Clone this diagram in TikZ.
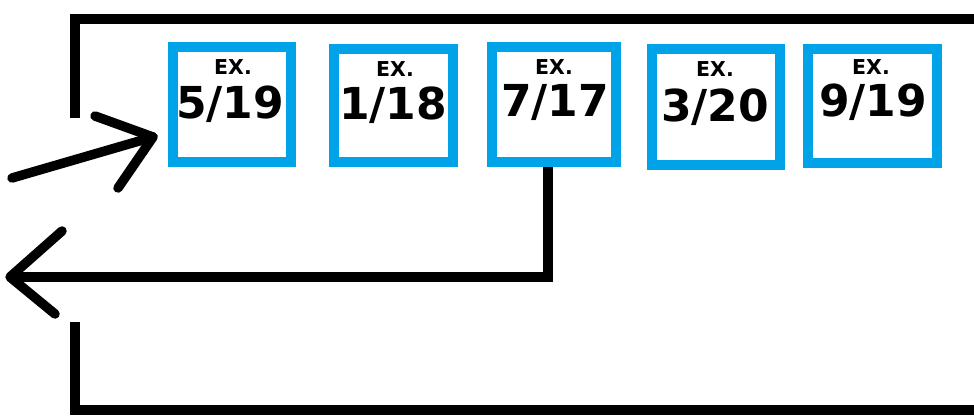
\documentclass[tikz,border=0pt]{standalone}
\usepackage{fontspec}
\setmainfont{DejaVu Sans}
\definecolor{boxblue}{HTML}{00A2E8}
\tikzset{
  exbox/.style={draw=boxblue, line width=10pt, minimum width=118pt, minimum height=115pt, inner sep=0pt},
  exlbl/.style={font=\bfseries\fontsize{20.5}{22}\selectfont, inner sep=0pt},
  numlbl/.style={font=\bfseries\fontsize{44}{46}\selectfont, inner sep=0pt},
  frame/.style={line width=9.5pt, black},
  arr/.style={line width=9.5pt, black, line cap=round, line join=round}
}
\begin{document}
\begin{tikzpicture}[x=1pt,y=-1pt]
\useasboundingbox (0,0) rectangle (974,415);
% boxes (outer extents in px)
\node[exbox, minimum width=118pt, minimum height=115pt] (b1) at (232,104.5) {};
\node[exbox, minimum width=119pt, minimum height=113pt] (b2) at (393.5,105.5) {};
\node[exbox, minimum width=124pt, minimum height=115pt] (b3) at (554,104.5) {};
\node[exbox, minimum width=128pt, minimum height=116pt] (b4) at (716,107) {};
\node[exbox, minimum width=129pt, minimum height=114pt] (b5) at (872.5,106) {};
% labels
\node[exlbl] (e1) at (233,67) {EX.};
\node[exlbl] (e2) at (395,69) {EX.};
\node[exlbl] (e3) at (554,67) {EX.};
\node[exlbl] (e4) at (715,69) {EX.};
\node[exlbl] (e5) at (871,67) {EX.};
\node[numlbl] (n1) at (230,104) {5/19};
\node[numlbl] (n2) at (393,105) {1/18};
\node[numlbl] (n3) at (555,103) {7/17};
\node[numlbl] (n4) at (715,107) {3/20};
\node[numlbl] (n5) at (873,102) {9/19};
% frame
\coordinate (ftl) at (75,19);
\coordinate (ftr) at (980,19);
\coordinate (fa) at (75,118);
\coordinate (fb) at (75,322);
\coordinate (fbl) at (75,410);
\coordinate (fbr) at (980,410);
\draw[frame] (fa) -- (ftl) -- (ftr);
\draw[frame] (fb) -- (fbl) -- (fbr);
% incoming arrow
\coordinate (inS) at (12,178);
\coordinate (inT) at (153,137);
\coordinate (inA) at (95,116);
\coordinate (inB) at (118,188);
\draw[arr] (inS) -- (inT);
\draw[arr] (inA) -- (inT) -- (inB);
% outgoing arrow from 7/17
\coordinate (oc) at (548,277);
\coordinate (oT) at (10,277);
\coordinate (oA) at (62,231);
\coordinate (oB) at (55,314);
\draw[frame, line join=miter] (b3.south -| oc) -- (oc) -- (oT);
\draw[arr] (oA) -- (oT) -- (oB);
\end{tikzpicture}
\end{document}
